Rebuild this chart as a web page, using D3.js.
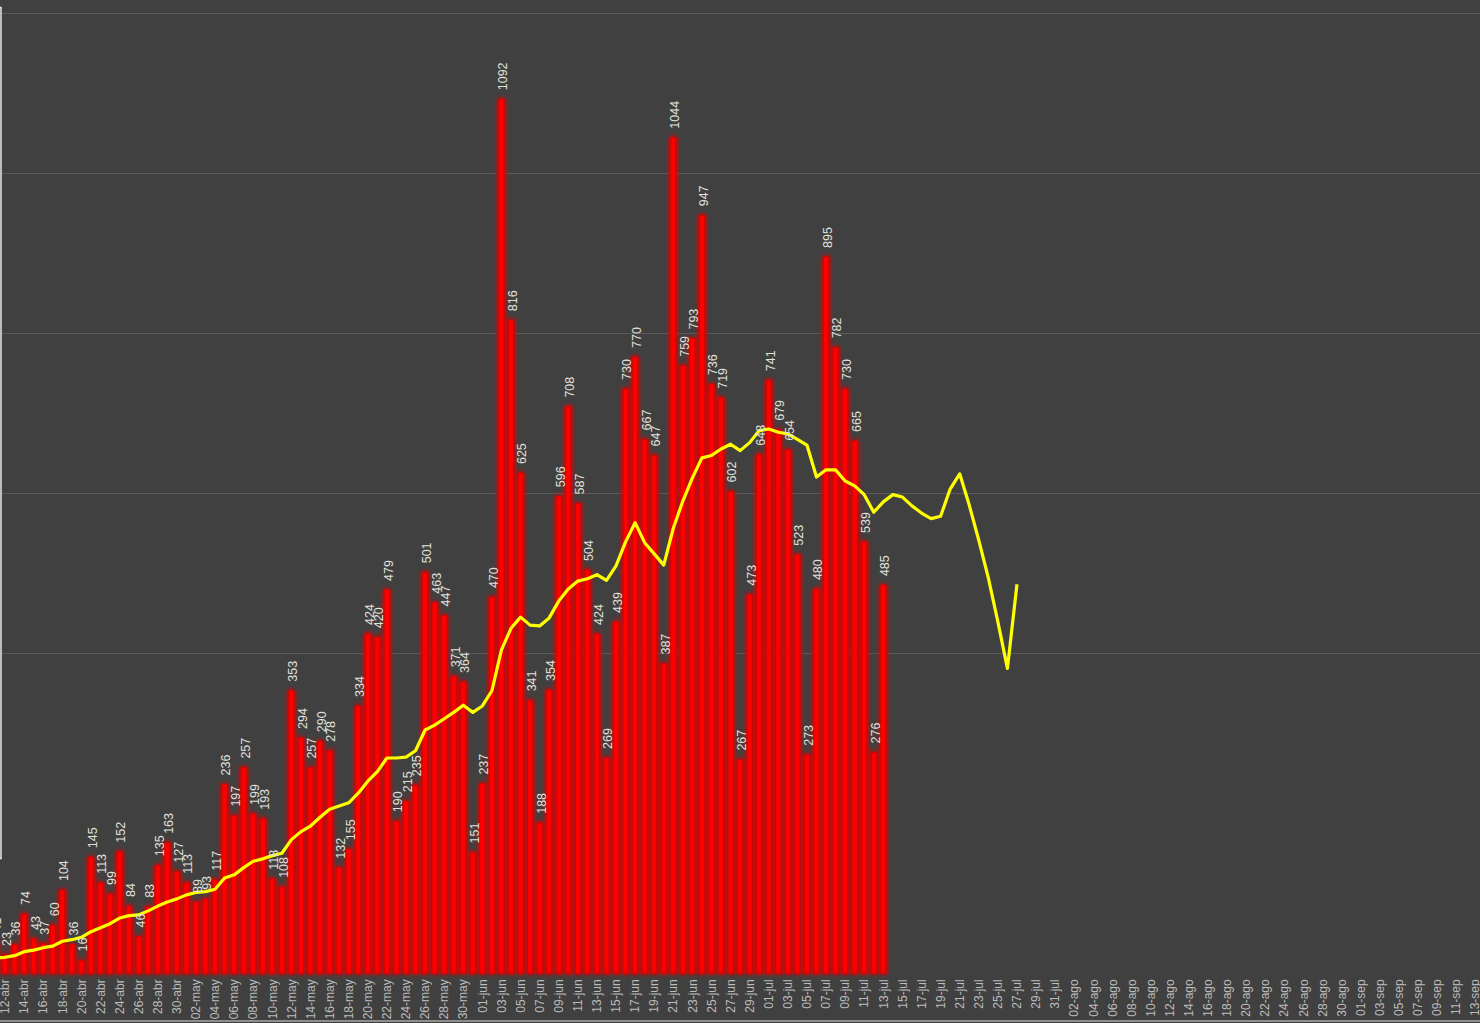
<!DOCTYPE html>
<html>
<head>
<meta charset="utf-8">
<script src="https://cdn.jsdelivr.net/npm/d3@7/dist/d3.min.js"></script>
<style>
  html, body { margin: 0; padding: 0; background: #404040; overflow: hidden; }
  svg { display: block; }
</style>
</head>
<body>
<svg id="chart" width="1480" height="1023"></svg>
<script>
// ---- data ----
const firstDay = "2020-04-11";      // first category (bar partly off-screen)
const lastDay = "2020-09-13";       // last category on the axis
const monthAbbr = ["ene","feb","mar","abr","may","jun","jul","ago","sep","oct","nov","dic"];

// daily cases, from 11-abr to 13-jul
const dailyCases = [41, 23, 36, 74, 43, 37, 60, 104, 36, 16, 145, 113, 99, 152, 84, 46, 83, 135, 163, 127,
  113, 89, 93, 117, 236, 197, 257, 199, 193, 118, 108, 353, 294, 257, 290, 278, 132, 155, 334, 424,
  420, 479, 190, 215, 235, 501, 463, 447, 371, 364, 151, 237, 470, 1092, 816, 625, 341, 188, 354, 596,
  708, 587, 504, 424, 269, 439, 730, 770, 667, 647, 387, 1044, 759, 793, 947, 736, 719, 602, 267, 473,
  648, 741, 679, 654, 523, 273, 480, 895, 782, 730, 665, 539, 276, 485];

// yellow trend line, from 11-abr to 27-jul
const trendLine = [19, 20, 22, 27, 29, 32, 34, 40, 42, 45, 52, 57, 62, 69, 72, 73, 78, 84, 89, 93,
  98, 101, 102, 105, 119, 123, 132, 140, 143, 147, 150, 167, 177, 184, 195, 205, 209, 213, 225, 240,
  252, 269, 269, 270, 278, 304, 310, 318, 326, 335, 326, 334, 353, 404, 431, 445, 435, 434, 444, 465,
  480, 490, 493, 498, 491, 509, 539, 563, 538, 524, 510, 556, 590, 619, 644, 647, 655, 661, 653, 663,
  678, 680, 676, 674, 667, 660, 620, 629, 629, 615, 609, 598, 576, 589, 598, 595, 584, 575, 568, 571,
  605, 624, 585, 541, 494, 439, 381, 486];

const gridTicks = [400, 600, 800, 1000, 1200];

// ---- categories ----
const parse = d3.timeParse("%Y-%m-%d");
const days = d3.timeDay.range(parse(firstDay), d3.timeDay.offset(parse(lastDay), 1));
const key = d => d3.timeFormat("%Y-%m-%d")(d);
const label = d => d3.timeFormat("%d")(d) + "-" + monthAbbr[d.getMonth()];
const cats = days.map(key);
const tickCats = cats.filter((c, i) => i % 2 === 1);

// ---- scales ----
const W = 1480, H = 1023;
const x = d3.scaleBand().domain(cats).range([-9.3, 1480]).padding(0);
const y = d3.scaleLinear().domain([0, 1200]).range([973.3, 12.8]);
const cx = c => x(c) + x.bandwidth() / 2;

const svg = d3.select("#chart");
const defs = svg.append("defs");
const glow = defs.append("filter").attr("id", "glow")
  .attr("filterUnits", "userSpaceOnUse")
  .attr("x", -30).attr("y", 0).attr("width", 1000).attr("height", 1000);
glow.append("feGaussianBlur").attr("in", "SourceAlpha").attr("stdDeviation", 2.4).attr("result", "b");
glow.append("feFlood").attr("flood-color", "#e00000").attr("flood-opacity", 1).attr("result", "f");
glow.append("feComposite").attr("in", "f").attr("in2", "b").attr("operator", "in").attr("result", "g");
const m = glow.append("feMerge");
m.append("feMergeNode").attr("in", "g");
m.append("feMergeNode").attr("in", "g");
m.append("feMergeNode").attr("in", "SourceGraphic");

svg.append("rect").attr("width", W).attr("height", H).attr("fill", "#404040");

// gridlines
svg.append("g").selectAll("line").data(gridTicks).join("line")
  .attr("x1", 0).attr("x2", W)
  .attr("y1", d => Math.round(y(d)) + 0.5).attr("y2", d => Math.round(y(d)) + 0.5)
  .attr("stroke", "#5a5a5a").attr("stroke-width", 1);

// bars
const barData = dailyCases.map((v, i) => ({ c: cats[i], v }));
const bw = 5;
svg.append("g").attr("filter", "url(#glow)").selectAll("rect").data(barData).join("rect")
  .attr("x", d => cx(d.c) - bw / 2)
  .attr("y", d => y(d.v))
  .attr("width", bw)
  .attr("height", d => y(0) - y(d.v))
  .attr("fill", "#ff0000")
  .attr("stroke", "#d40000")
  .attr("stroke-width", 0.8);

// trend line
const lineData = trendLine.map((v, i) => ({ c: cats[i], v }));
svg.append("path").datum(lineData)
  .attr("fill", "none")
  .attr("stroke", "#ffff00")
  .attr("stroke-width", 3.2)
  .attr("stroke-linejoin", "round")
  .attr("d", d3.line().x(d => cx(d.c)).y(d => y(d.v)));

// value labels
svg.append("g").selectAll("text").data(barData).join("text")
  .attr("transform", d => `translate(${cx(d.c) + 1.5},${y(d.v) - 9}) rotate(-90)`)
  .attr("dy", "0.35em")
  .attr("text-anchor", "start")
  .attr("font-family", "'Liberation Sans', Arial, sans-serif")
  .attr("font-size", 12.5)
  .attr("fill", "#e2e0dc")
  .text(d => d.v);

// x axis
const xAxis = d3.axisBottom(x)
  .tickValues(tickCats)
  .tickSize(0)
  .tickFormat(c => label(parse(c)));
const gx = svg.append("g").attr("transform", `translate(0,${y(0)})`).call(xAxis);
gx.select(".domain").remove();
gx.selectAll("text")
  .attr("transform", "rotate(-90)")
  .attr("text-anchor", "end")
  .attr("x", -6)
  .attr("y", 0)
  .attr("dy", "0.35em")
  .attr("font-family", "'Liberation Sans', Arial, sans-serif")
  .attr("font-size", 12)
  .attr("fill", "#bcbcbc");

// bottom border line
svg.append("line").attr("x1", 0).attr("x2", W).attr("y1", 1021).attr("y2", 1021)
  .attr("stroke", "#a8a8a8").attr("stroke-width", 1.5);

// partially visible white frame on the left edge
svg.append("path").attr("d", "M-20,7.5 H1 V858.5 H-20")
  .attr("fill", "none").attr("stroke", "#f0f0f0").attr("stroke-width", 1.4);
</script>
</body>
</html>
